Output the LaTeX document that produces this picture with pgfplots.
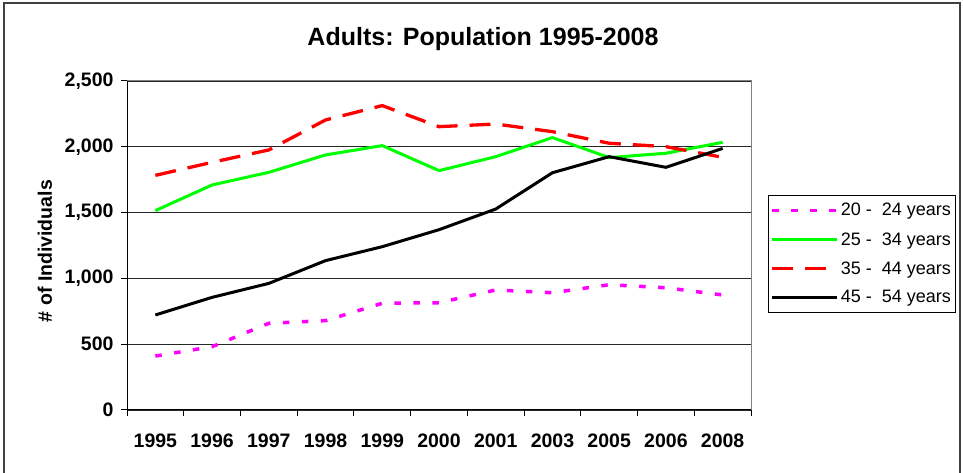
\documentclass[border=0pt]{standalone}
\usepackage{pgfplots}
\pgfplotsset{compat=1.18}
\usepackage{pgfplotstable}
\usepackage{fontspec}
\setmainfont{Liberation Sans}

\definecolor{pinkline}{RGB}{255,0,255}
\definecolor{greenline}{RGB}{0,255,0}
\definecolor{redline}{RGB}{255,0,0}
\definecolor{frameborder}{RGB}{128,128,128}

% population by age band; x = category index
\pgfplotstableread{
x  a    b    c    d
0  410  1515 1783 722
1  481  1710 1882 856
2  659  1806 1976 962
3  679  1938 2204 1135
4  811  2009 2313 1241
5  815  1819 2153 1370
6  912  1925 2173 1527
7  891  2070 2115 1803
8  952  1918 2027 1925
9  929  1951 2001 1844
10 874  2034 1920 1988
}\popdata

\begin{document}
\begin{tikzpicture}[x=1pt,y=1pt]
\useasboundingbox (0,0) rectangle (963,473);
% outer chart frame
\draw[line width=1.3pt, black!75] (4,-20) -- (4,470) -- (960,470) -- (960,-20);
\begin{axis}[
  at={(127pt,63pt)}, anchor=south west,
  width=624pt, height=329pt, scale only axis,
  xmin=-0.5, xmax=10.5, ymin=0, ymax=2500,
  axis line style={draw=none},
  tick align=outside, tick pos=left,
  xtick={0,...,10},
  xticklabels={1995,1996,1997,1998,1999,2000,2001,2003,2005,2006,2008},
  major x tick style={draw=none},
  minor xtick={-0.5,0.5,...,10.5},
  minor x tick style={black, line width=1pt},
  minor tick length=6pt,
  major tick length=6pt,
  ytick={0,500,...,2500},
  major y tick style={black, line width=1pt},
  ymajorgrids,
  major grid style={black!85, line width=0.9pt},
  ticklabel style={font=\bfseries\fontsize{19.5}{22}\selectfont},
  xticklabel style={yshift=-14pt},
  yticklabel style={xshift=-4pt},
  ylabel={\# of Individuals},
  every axis y label/.style={at={(axis description cs:-0.1314,0.483)}, rotate=90,
    anchor=center, font=\bfseries\fontsize{19.5}{22}\selectfont},
  title={Adults: Population 1995-2008},
  title style={at={(axis description cs:0.5705,1)}, anchor=base, yshift=29pt,
    font=\bfseries\fontsize{25}{28}\selectfont},
  legend style={at={(axis description cs:1.0272,0.6535)}, anchor=north west,
    draw=black, line width=0.8pt, font=\fontsize{18}{20}\selectfont,
    inner xsep=2pt, inner ysep=6pt, row sep=11pt},
  legend cell align=left,
  legend image code/.code={\draw[#1] (0pt,0pt) -- (65pt,0pt);},
  /pgf/number format/1000 sep={,},
  /pgf/number format/assume math mode=true,
  clip=false,
]
\addplot[pinkline, line width=3.5pt, dash pattern=on 6.5pt off 12.5pt] table[x=x,y=a] {\popdata};
\addlegendentry{20 -\ \ 24 years}
\addplot[greenline, line width=3pt] table[x=x,y=b] {\popdata};
\addlegendentry{25 -\ \ 34 years}
\addplot[redline, line width=3.3pt, dash pattern=on 21pt off 12pt] table[x=x,y=c] {\popdata};
\addlegendentry{35 -\ \ 44 years}
\addplot[black, line width=3pt] table[x=x,y=d] {\popdata};
\addlegendentry{45 -\ \ 54 years}
% plot area border: gray top and right, black left and bottom
\draw[frameborder, line width=1pt] (rel axis cs:0,1) -- (rel axis cs:1,1) -- (rel axis cs:1,0);
\draw[black, line width=1pt] (rel axis cs:0,1) -- (rel axis cs:0,0) -- (rel axis cs:1,0);
\end{axis}
\end{tikzpicture}
\end{document}
